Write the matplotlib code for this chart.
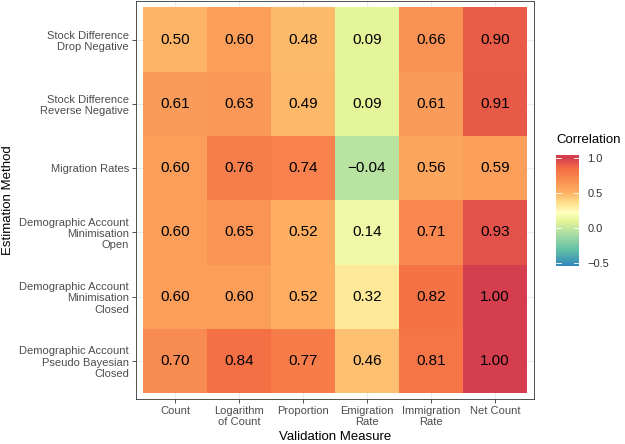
import numpy as np
import matplotlib
matplotlib.use('Agg')
import matplotlib.pyplot as plt
from matplotlib.colors import LinearSegmentedColormap, Normalize
from matplotlib.cm import ScalarMappable

plt.rcParams['font.family'] = ['Liberation Sans', 'DejaVu Sans']

# ---- data ----
methods = ["Stock Difference\nDrop Negative",
           "Stock Difference\nReverse Negative",
           "Migration Rates",
           "Demographic Account\nMinimisation\nOpen",
           "Demographic Account\nMinimisation\nClosed",
           "Demographic Account\nPseudo Bayesian\nClosed"]
measures = ["Count", "Logarithm\nof Count", "Proportion",
            "Emigration\nRate", "Immigration\nRate", "Net Count"]
corr = np.array([
    [0.50, 0.60, 0.48, 0.09, 0.66, 0.90],
    [0.61, 0.63, 0.49, 0.09, 0.61, 0.91],
    [0.60, 0.76, 0.74, -0.04, 0.56, 0.59],
    [0.60, 0.65, 0.52, 0.14, 0.71, 0.93],
    [0.60, 0.60, 0.52, 0.32, 0.82, 1.00],
    [0.70, 0.84, 0.77, 0.46, 0.81, 1.00],
])
cbar_ticks = [-0.5, 0.0, 0.5, 1.0]

# ---- colour scale (reversed Spectral) ----
vmin, vmax = -0.54, 1.04
anchors = [(-0.54, '#3288bd'), (-0.30, '#66c2a5'), (-0.08, '#abdda4'),
           (0.10, '#e6f598'), (0.22, '#ffffbf'), (0.36, '#fee08b'),
           (0.52, '#fdae61'), (0.85, '#f46d43'), (1.00, '#d53e4f'),
           (1.04, '#d53e4f')]
cmap = LinearSegmentedColormap.from_list(
    'spec', [((v - vmin) / (vmax - vmin), c) for v, c in anchors])
norm = Normalize(vmin, vmax)

fig = plt.figure(figsize=(6.25, 4.44), dpi=100)
ax = fig.add_axes([136/625, 1 - 399/444, 398/625, 398/444])

nr, nc = corr.shape
ax.pcolormesh(np.arange(nc + 1) - 0.5, np.arange(nr + 1) - 0.5, corr,
              cmap=cmap, norm=norm, zorder=2)
for i in range(nr):
    for j in range(nc):
        ax.text(j, i, f"{corr[i, j]:.2f}".replace('-', '\u2212'),
                ha='center', va='center', fontsize=11, color='black', zorder=3)

ax.set_xlim(-0.61, nc - 0.39)
ax.set_ylim(nr - 0.41, -0.6)
ax.set_xticks(range(nc))
ax.set_xticklabels(measures, fontsize=8, color='#4d4d4d', linespacing=1.1)
ax.set_yticks(range(nr))
ax.set_yticklabels(methods, fontsize=8, color='#4d4d4d', linespacing=1.15)
ax.tick_params(length=3, width=0.6, color='#333333', pad=2)
ax.grid(True, color='#ebebeb', linewidth=0.8, zorder=0)
ax.set_axisbelow(True)
for sp in ax.spines.values():
    sp.set_color('#333333')
    sp.set_linewidth(0.6)
ax.set_xlabel('Validation Measure', fontsize=9.5, labelpad=3)
ax.set_ylabel('Estimation Method', fontsize=9.5, labelpad=4)

# ---- colourbar ----
cax = fig.add_axes([556/625, 1 - 266/444, 23/625, 111/444])
cb = fig.colorbar(ScalarMappable(norm=norm, cmap=cmap), cax=cax, ticks=cbar_ticks)
cb.outline.set_visible(False)
cb.ax.tick_params(length=0, labelsize=8, labelcolor='#333333', pad=6)
cb.ax.set_yticklabels(['\u22120.5', '0.0', '0.5', '1.0'])
for t in cbar_ticks:
    cax.plot([0, 0.2], [t, t], color='white', lw=0.6, transform=cax.get_yaxis_transform())
    cax.plot([0.8, 1.0], [t, t], color='white', lw=0.6, transform=cax.get_yaxis_transform())
fig.text(556/625, 1 - 140/444, 'Correlation', fontsize=9.5, ha='left', va='center')

fig.savefig('out.png', dpi=100)
